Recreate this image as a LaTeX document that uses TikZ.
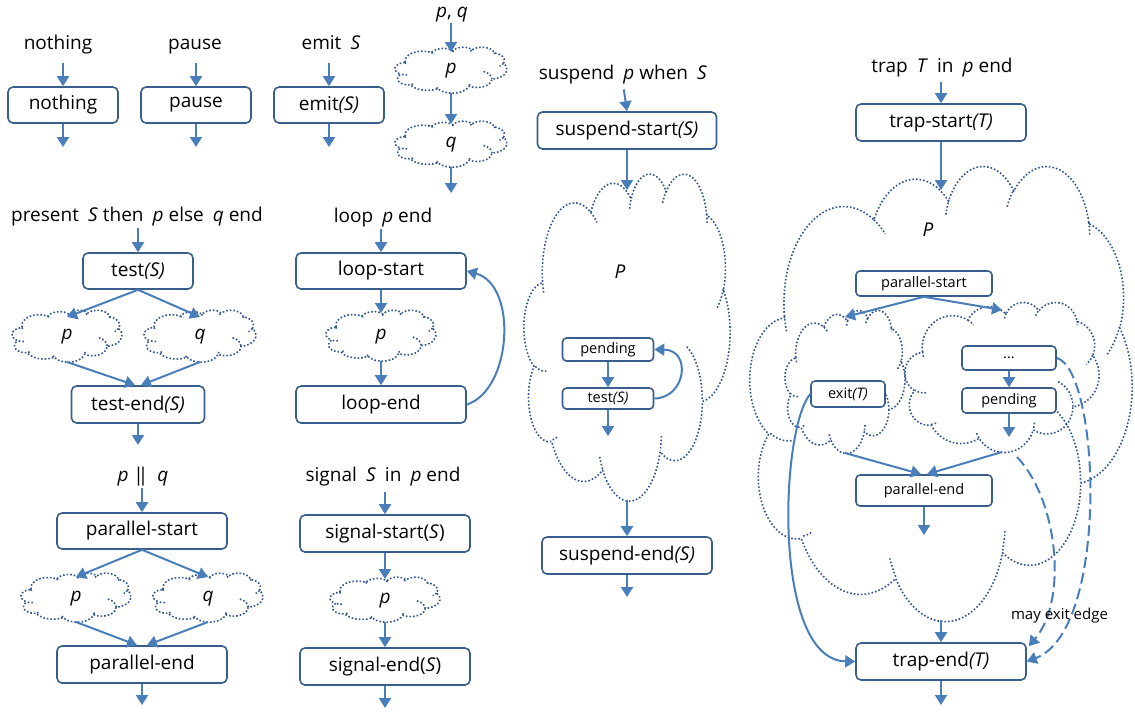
\documentclass[tikz,border=0pt]{standalone}
\usepackage{fontspec}
\setmainfont{Open Sans}
\usetikzlibrary{arrows.meta}
\definecolor{arrc}{HTML}{4A7EBB}
\definecolor{boxc}{HTML}{3A5E8C}
\definecolor{cldc}{HTML}{2F5490}
% visual angle -> parametric angle of an ellipse
\newcommand\pcang[4]{%
  \pgfmathsetmacro\pctmpa{atan2((#3)*sin(#2),(#4)*cos(#2))-(#2)}%
  \pgfmathsetmacro\pctmpb{(#2)+\pctmpa-360*round(\pctmpa/360)}%
  \expandafter\xdef\csname #1\endcsname{\pctmpb}}
\pcang{pcoAs}{-190.4875}{67.53}{91.90}\pcang{pcoAe}{-66.7070}{67.53}{91.90}
\pcang{pcoBs}{-144.1024}{53.33}{72.67}\pcang{pcoBe}{-54.1572}{53.33}{72.67}
\pcang{pcoCs}{-145.8079}{43.65}{59.45}\pcang{pcoCe}{-46.0849}{43.65}{59.45}
\pcang{pcoDs}{-130.9861}{48.57}{65.95}\pcang{pcoDe}{-13.7444}{48.57}{65.95}
\pcang{pcoEs}{-78.7089}{53.33}{72.73}\pcang{pcoEe}{30.3180}{53.33}{72.73}
\pcang{pcoFs}{-46.2673}{67.75}{92.20}\pcang{pcoFe}{84.0017}{67.75}{92.20}
\pcang{pcoGs}{0.6250}{57.85}{78.67}\pcang{pcoGe}{114.6583}{57.85}{78.67}
\pcang{pcoHs}{22.4516}{67.52}{92.15}\pcang{pcoHe}{137.6242}{67.52}{92.15}
\pcang{pcoIs}{66.2426}{77.20}{105.43}\pcang{pcoIe}{141.9536}{77.20}{105.43}
\pcang{pcoJs}{-274.9421}{43.60}{59.18}\pcang{pcoJe}{-128.2065}{43.60}{59.18}
\pcang{pcoKs}{-246.8285}{43.45}{59.45}\pcang{pcoKe}{-94.3096}{43.45}{59.45}
\pcang{pccAs}{86.7420}{43.45}{59.45}\pcang{pccAe}{113.1715}{43.45}{59.45}
\pcang{pccBs}{73.6105}{43.60}{59.18}\pcang{pccBe}{85.0580}{43.60}{59.18}
\pcang{pccCs}{137.6242}{67.52}{92.15}\pcang{pccCe}{151.7053}{67.52}{92.15}
\pcang{pccDs}{6.4533}{67.52}{92.15}\pcang{pccDe}{22.4517}{67.52}{92.15}
\pcang{pccEs}{-70.2924}{57.85}{78.67}\pcang{pccEe}{0.6250}{57.85}{78.67}
\pcang{pccFs}{30.3180}{53.33}{72.73}\pcang{pccFe}{58.0695}{53.33}{72.73}
\pcang{pccGs}{-13.7443}{48.57}{65.95}\pcang{pccGe}{1.1146}{48.57}{65.95}
\pcang{pccHs}{-149.1815}{48.57}{65.95}\pcang{pccHe}{-130.9861}{48.57}{65.95}
\pcang{pccIs}{-163.4943}{43.65}{59.45}\pcang{pccIe}{-145.8079}{43.65}{59.45}
\pcang{pccJs}{-66.7070}{67.53}{91.90}\pcang{pccJe}{-54.3876}{67.53}{91.90}
\pcang{pccKs}{157.6544}{67.53}{91.90}\pcang{pccKe}{169.5126}{67.53}{91.90}
% cloud: name, x0, y0, w, h, text
\newcommand\pcloud[6]{%
  \begin{scope}[shift={(#2,#3)}, xscale=#4/432, yscale=#5/432]
    \draw[cloudline] (39,143.7)
      arc[start angle=\pcoAs, end angle=\pcoAe, x radius=67.53, y radius=91.90]
      arc[start angle=\pcoBs, end angle=\pcoBe, x radius=53.33, y radius=72.67]
      arc[start angle=\pcoCs, end angle=\pcoCe, x radius=43.65, y radius=59.45]
      arc[start angle=\pcoDs, end angle=\pcoDe, x radius=48.57, y radius=65.95]
      arc[start angle=\pcoEs, end angle=\pcoEe, x radius=53.33, y radius=72.73]
      arc[start angle=\pcoFs, end angle=\pcoFe, x radius=67.75, y radius=92.20]
      arc[start angle=\pcoGs, end angle=\pcoGe, x radius=57.85, y radius=78.67]
      arc[start angle=\pcoHs, end angle=\pcoHe, x radius=67.52, y radius=92.15]
      arc[start angle=\pcoIs, end angle=\pcoIe, x radius=77.20, y radius=105.43]
      arc[start angle=\pcoJs, end angle=\pcoJe, x radius=43.60, y radius=59.18]
      arc[start angle=\pcoKs, end angle=\pcoKe, x radius=43.45, y radius=59.45]
      -- cycle;
    \draw[cloudline]
      (46.93,261.77) arc[start angle=\pccAs, end angle=\pccAe, x radius=43.45, y radius=59.45]
      (69.28,348.99) arc[start angle=\pccBs, end angle=\pccBe, x radius=43.60, y radius=59.18]
      (164.78,390.90) arc[start angle=\pccCs, end angle=\pccCe, x radius=67.52, y radius=92.15]
      (288.27,347.51) arc[start angle=\pccDs, end angle=\pccDe, x radius=67.52, y radius=92.15]
      (341.29,229.54) arc[start angle=\pccEs, end angle=\pccEe, x radius=57.85, y radius=78.67]
      (417.98,153.54) arc[start angle=\pccFs, end angle=\pccFe, x radius=53.33, y radius=72.73]
      (383.24,54.26) arc[start angle=\pccGs, end angle=\pccGe, x radius=48.57, y radius=65.95]
      (290.78,39.52) arc[start angle=\pccHs, end angle=\pccHe, x radius=48.57, y radius=65.95]
      (221.41,47.20) arc[start angle=\pccIs, end angle=\pccIe, x radius=43.65, y radius=59.45]
      (140.00,51.92) arc[start angle=\pccJs, end angle=\pccJe, x radius=67.53, y radius=91.90]
      (41.27,157.89) arc[start angle=\pccKs, end angle=\pccKe, x radius=67.53, y radius=91.90];
  \end{scope}
  \node[cloudnode, minimum width=#4pt, minimum height=#5pt] (#1) at ({#2+#4/2},{#3+#5/2}) {};
  \node[ctext] (#1-t) at ({#2+#4/2},{#3+#5/2+1}) {#6};
}
\newcommand\isp{\hspace{0.22em}}
\begin{document}
\begin{tikzpicture}[x=1pt, y=-1pt, line join=round,
  box/.style={draw=boxc, line width=1.6pt, rounded corners=5pt, fill=white, inner sep=0pt, font=\fontsize{19}{22}\selectfont},
  sbox/.style={box, rounded corners=4pt, font=\fontsize{14.5}{16}\selectfont},
  wh/.style 2 args={minimum width=#1pt, minimum height=#2pt},
  ttl/.style={inner sep=0pt, font=\fontsize{19}{22}\selectfont, text height=13.5pt, text depth=4pt},
  arr/.style={draw=arrc, line width=2pt, -{Triangle[length=10pt,width=12pt]}},
  darr/.style={arr, dash pattern=on 11pt off 5pt},
  cloudline/.style={draw=cldc, line width=1.6pt, dash pattern=on 1.6pt off 2pt},
  cloudnode/.style={draw=none, inner sep=0pt, outer sep=0pt, rectangle},
  ctext/.style={inner sep=0pt, font=\fontsize{19}{22}\selectfont\itshape}]
\useasboundingbox (0,0) rectangle (1135,712);

% ---------- row 1 ----------
\node[ttl] (t1) at (58,45) {nothing};
\node[box, wh={110}{36}] (b1) at (63,105) {nothing};
\coordinate (b1o) at (63,147);
\draw[arr, shorten <=9pt] (b1.north |- t1.south) -- (b1.north);
\draw[arr] (b1.south) -- (b1o);

\node[ttl] (t2) at (195,45) {pause};
\node[box, wh={110}{36}] (b2) at (196,105) {pause};
\coordinate (b2o) at (196,147);
\draw[arr, shorten <=9pt] (b2.north |- t2.south) -- (b2.north);
\draw[arr] (b2.south) -- (b2o);

\node[ttl] (t3) at (331,45) {emit\isp{} \textit{S}};
\node[box, wh={110}{36}] (b3) at (329,105) {emit\textit{(S)}};
\coordinate (b3o) at (329,147);
\draw[arr, shorten <=9pt] (b3.north |- t3.south) -- (b3.north);
\draw[arr] (b3.south) -- (b3o);

\node[ttl] (tpq) at (452,13) {\textit{p}, \textit{q}};
\pcloud{cpq1}{395}{47}{112}{46}{p}
\pcloud{cpq2}{395}{121}{112}{46}{q}
\coordinate (cpqo) at (451,193);
\draw[arr, shorten <=1pt] (cpq1.north |- tpq.south) -- ([yshift=-5pt]cpq1.north);
\draw[arr] (cpq1.south) -- ([yshift=-3pt]cpq2.north);
\draw[arr] (cpq2.south) -- (cpqo);

% ---------- present ----------
\node[ttl] (tpr) at (137,217) {present\isp{} \textit{S} then\isp{} \textit{p} else\isp{} \textit{q} end};
\node[box, wh={110}{36}] (btest) at (138,271) {test\textit{(S)}};
\pcloud{cpr1}{12}{310}{110}{52}{p}
\pcloud{cpr2}{144}{310}{112}{52}{q}
\node[box, wh={133}{37}] (btestend) at (138,404.5) {test-end\textit{(S)}};
\coordinate (btesto) at (138,445);
\draw[arr, shorten <=2pt] (btest.north |- tpr.south) -- (btest.north);
\draw[arr] (btest.south) -- ([yshift=-7pt]cpr1.north);
\draw[arr] (btest.south) -- ([yshift=-7pt]cpr2.north);
\draw[arr] (cpr1.south) -- ([xshift=-3pt]btestend.north);
\draw[arr] (cpr2.south) -- ([xshift=3pt]btestend.north);
\draw[arr] (btestend.south) -- (btesto);

% ---------- loop ----------
\node[ttl] (tloop) at (383,218) {loop\isp{} \textit{p} end};
\node[box, wh={170}{36}] (bls) at (381,271) {loop-start};
\pcloud{cloop}{326}{310}{110}{51}{p}
\node[box, wh={170}{37}] (ble) at (381,404.5) {loop-end};
\draw[arr, shorten <=2pt] (bls.north |- tloop.south) -- (bls.north);
\draw[arr] (bls.south) -- ([yshift=-3pt]cloop.north);
\draw[arr] (cloop.south) -- (ble.north);
\draw[arr] (ble.east) .. controls (512,390) and (518,285) .. (bls.east);

% ---------- parallel ----------
\node[ttl] (tpar) at (143,477) {\textit{p} |\kern-6pt|\isp{} \textit{q}};
\node[box, wh={170}{36}] (bps) at (142,531) {parallel-start};
\pcloud{cpa1}{21}{573}{110}{49}{p}
\pcloud{cpa2}{153}{573}{110}{49}{q}
\node[box, wh={170}{37}] (bpe) at (142,664.5) {parallel-end};
\coordinate (bpeo) at (142,705);
\draw[arr, shorten <=2.5pt] (bps.north |- tpar.south) -- (bps.north);
\draw[arr] (bps.south) -- ([yshift=-4pt]cpa1.north);
\draw[arr] (bps.south) -- ([yshift=-4pt]cpa2.north);
\draw[arr] (cpa1.south) -- ([xshift=-5pt]bpe.north);
\draw[arr] (cpa2.south) -- ([xshift=5pt]bpe.north);
\draw[arr] (bpe.south) -- (bpeo);

% ---------- signal ----------
\node[ttl] (tsig) at (383,477) {signal\isp{} \textit{S}\isp{} in\isp{} \textit{p} end};
\node[box, wh={170}{37}] (bss) at (385,533.5) {signal-start(\textit{S})};
\pcloud{csig}{330}{577}{110}{45}{p}
\node[box, wh={170}{37}] (bse) at (385,666.5) {signal-end(\textit{S})};
\coordinate (bseo) at (385,708);
\draw[arr, shorten <=6pt] (bss.north |- tsig.south) -- (bss.north);
\draw[arr] (bss.south) -- ([yshift=-2pt]csig.north);
\draw[arr] (csig.south) -- (bse.north);
\draw[arr] (bse.south) -- (bseo);

% ---------- suspend ----------
\node[ttl] (tsus) at (623,75) {suspend\isp{} \textit{p} when\isp{} \textit{S}};
\node[box, wh={179}{37}] (bsus) at (627,130.5) {suspend-start\textit{(S)}};
\pcloud{csus}{524}{173}{206}{327}{}
\node[ctext] (psus) at (620,272) {P};
\node[sbox, wh={91}{23}] (bpend) at (608,349.5) {pending};
\node[sbox, wh={91}{21}] (btst) at (608,398.5) {test\textit{(S)}};
\coordinate (btsto) at (608,436);
\node[box, wh={170}{37}] (bsusend) at (627,555.5) {suspend-end\textit{(S)}};
\coordinate (bsuso) at (627,597);
\draw[arr, shorten <=5.5pt] (tsus.south) -- (bsus.north);
\draw[arr] (bsus.south) -- ([yshift=-17pt]csus.north);
\draw[arr] (bpend.south) -- (btst.north);
\draw[arr] (btst.south) -- (btsto);
\draw[arr] (btst.east) .. controls (686,398) and (692,350) .. (bpend.east);
\draw[arr] (csus.south) -- (bsusend.north);
\draw[arr] (bsusend.south) -- (bsuso);

% ---------- trap ----------
\node[ttl] (ttrap) at (942,68) {trap\isp{} \textit{T}\isp{} in\isp{} \textit{p} end};
\node[box, wh={170}{37}] (btrs) at (941,122.5) {trap-start\textit{(T)}};
\pcloud{ctrap}{750}{165}{382}{455}{}
\node[ctext] (ptrap) at (928,230) {P};
\node[sbox, wh={136}{25}] (bpas) at (924,283.5) {parallel-start};
\pcloud{cL}{785}{310}{120}{143}{}
\pcloud{cR}{905}{302}{194}{150}{}
\node[sbox, wh={74}{26}] (bexit) at (848,394) {exit\textit{(T)}};
\node[sbox, wh={94}{24}] (bdots) at (1009,358) {...};
\node[sbox, wh={94}{25}] (bpend2) at (1009,400.5) {pending};
\coordinate (bpend2o) at (1009,437);
\node[sbox, wh={136}{31}] (bpae) at (924,490.5) {parallel-end};
\coordinate (bpaeo) at (924,535);
\node[box, wh={170}{37}] (btre) at (941,661.5) {trap-end\textit{(T)}};
\coordinate (btreo) at (941,705);
\draw[arr, shorten <=5.5pt] (btrs.north |- ttrap.south) -- (btrs.north);
\draw[arr] (btrs.south) -- ([yshift=-25pt]ctrap.north);
\draw[arr] (bpas.south) -- ([yshift=-7pt]cL.north);
\draw[arr] (bpas.south) -- ([yshift=-8pt]cR.north);
\draw[arr] (bdots.south) -- (bpend2.north);
\draw[arr] (bpend2.south) -- (bpend2o);
\draw[arr] (cL.south) -- ([xshift=-3pt]bpae.north);
\draw[arr] (cR.south) -- ([xshift=3pt]bpae.north);
\draw[arr] (bpae.south) -- (bpaeo);
\draw[arr] (ctrap.south) -- (btre.north);
\draw[arr] (btre.south) -- (btreo);
\draw[arr] (bexit.west) .. controls (780,430) and (772,660) .. (btre.west);
\draw[darr] (bdots.east) .. controls (1100,370) and (1110,630) .. (btre.east);
\draw[darr] ([xshift=15pt,yshift=-5pt]cR.south) .. controls (1058,500) and (1068,600) .. ([xshift=2pt,yshift=-4pt]btre.north east);
\node[inner sep=0pt, font=\fontsize{15}{17}\selectfont] (lbl) at (1059.5,616) {may exit edge};
\end{tikzpicture}
\end{document}
